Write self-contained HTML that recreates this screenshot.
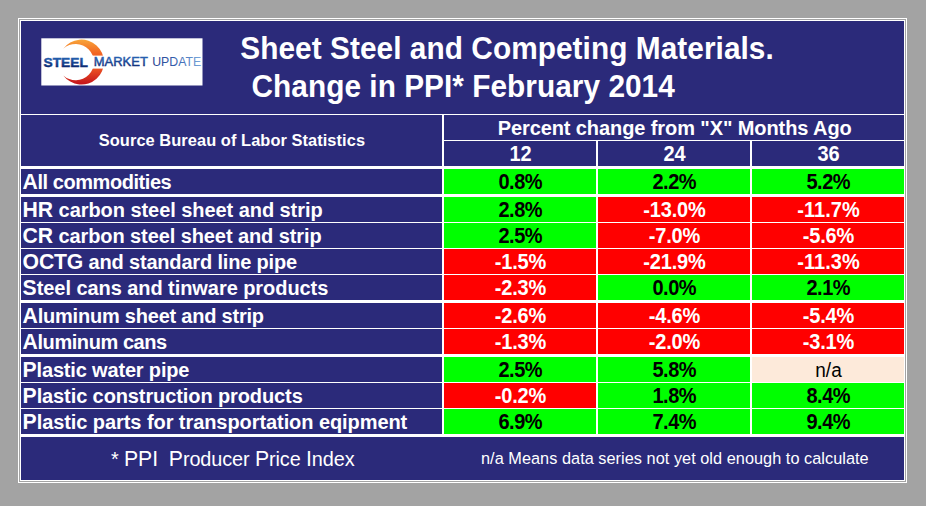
<!DOCTYPE html>
<html><head><meta charset="utf-8"><style>
html,body{margin:0;padding:0;background:#a3a3a3;width:926px;height:506px;overflow:hidden;font-family:"Liberation Sans",sans-serif;}
svg{display:block;}
</style></head><body>
<svg width="926" height="506" viewBox="0 0 926 506" font-family="'Liberation Sans', sans-serif">
<rect x="0" y="0" width="926" height="506" fill="#a3a3a3"/><rect x="18" y="18" width="889" height="465" fill="#ffffff"/><rect x="19" y="19" width="887" height="463" fill="#a3a3a3"/><rect x="20" y="20" width="885" height="461" fill="#ffffff"/><rect x="21" y="21" width="883" height="459" fill="#2b2a7a"/><rect x="21" y="114" width="883" height="1" fill="#ffffff"/><rect x="442" y="115" width="2" height="51" fill="#ffffff"/><rect x="444" y="140" width="460" height="1" fill="#ffffff"/><rect x="596" y="141" width="2" height="25" fill="#ffffff"/><rect x="750" y="141" width="2" height="25" fill="#ffffff"/><rect x="21" y="166" width="883" height="3" fill="#ffffff"/><rect x="21" y="169" width="883" height="268" fill="#ffffff"/><rect x="21" y="169" width="421" height="25" fill="#2b2a7a"/><rect x="444" y="169" width="152" height="25" fill="#00ff00"/><rect x="598" y="169" width="152" height="25" fill="#00ff00"/><rect x="752" y="169" width="152" height="25" fill="#00ff00"/><rect x="21" y="197" width="421" height="25" fill="#2b2a7a"/><rect x="444" y="197" width="152" height="25" fill="#00ff00"/><rect x="598" y="197" width="152" height="25" fill="#ff0000"/><rect x="752" y="197" width="152" height="25" fill="#ff0000"/><rect x="21" y="223" width="421" height="25" fill="#2b2a7a"/><rect x="444" y="223" width="152" height="25" fill="#00ff00"/><rect x="598" y="223" width="152" height="25" fill="#ff0000"/><rect x="752" y="223" width="152" height="25" fill="#ff0000"/><rect x="21" y="249" width="421" height="25" fill="#2b2a7a"/><rect x="444" y="249" width="152" height="25" fill="#ff0000"/><rect x="598" y="249" width="152" height="25" fill="#ff0000"/><rect x="752" y="249" width="152" height="25" fill="#ff0000"/><rect x="21" y="275" width="421" height="25" fill="#2b2a7a"/><rect x="444" y="275" width="152" height="25" fill="#ff0000"/><rect x="598" y="275" width="152" height="25" fill="#00ff00"/><rect x="752" y="275" width="152" height="25" fill="#00ff00"/><rect x="21" y="303" width="421" height="25" fill="#2b2a7a"/><rect x="444" y="303" width="152" height="25" fill="#ff0000"/><rect x="598" y="303" width="152" height="25" fill="#ff0000"/><rect x="752" y="303" width="152" height="25" fill="#ff0000"/><rect x="21" y="329" width="421" height="25" fill="#2b2a7a"/><rect x="444" y="329" width="152" height="25" fill="#ff0000"/><rect x="598" y="329" width="152" height="25" fill="#ff0000"/><rect x="752" y="329" width="152" height="25" fill="#ff0000"/><rect x="21" y="357" width="421" height="25" fill="#2b2a7a"/><rect x="444" y="357" width="152" height="25" fill="#00ff00"/><rect x="598" y="357" width="152" height="25" fill="#00ff00"/><rect x="752" y="357" width="152" height="25" fill="#fdeada"/><rect x="21" y="383" width="421" height="25" fill="#2b2a7a"/><rect x="444" y="383" width="152" height="25" fill="#ff0000"/><rect x="598" y="383" width="152" height="25" fill="#00ff00"/><rect x="752" y="383" width="152" height="25" fill="#00ff00"/><rect x="21" y="409" width="421" height="25" fill="#2b2a7a"/><rect x="444" y="409" width="152" height="25" fill="#00ff00"/><rect x="598" y="409" width="152" height="25" fill="#00ff00"/><rect x="752" y="409" width="152" height="25" fill="#00ff00"/>

<defs>
<linearGradient id="cg" gradientUnits="userSpaceOnUse" x1="0" y1="40" x2="0" y2="84">
 <stop offset="0" stop-color="#f8a338"/>
 <stop offset="0.3" stop-color="#f26524"/>
 <stop offset="0.65" stop-color="#ec5323"/>
 <stop offset="1" stop-color="#c4141c"/>
</linearGradient>
<linearGradient id="tb" gradientUnits="userSpaceOnUse" x1="0" y1="57" x2="0" y2="67">
 <stop offset="0" stop-color="#2464b4"/>
 <stop offset="1" stop-color="#0b2a72"/>
</linearGradient>
<linearGradient id="tm" gradientUnits="userSpaceOnUse" x1="0" y1="57" x2="0" y2="67">
 <stop offset="0" stop-color="#2662b2"/>
 <stop offset="1" stop-color="#0f2c76"/>
</linearGradient>
<linearGradient id="tu" gradientUnits="userSpaceOnUse" x1="152" y1="67" x2="200" y2="57">
 <stop offset="0" stop-color="#263f8e"/>
 <stop offset="0.5" stop-color="#3560ae"/>
 <stop offset="1" stop-color="#78a8dc"/>
</linearGradient>
</defs>
<rect x="41.3" y="38.3" width="161.2" height="47.2" fill="#ffffff"/>
<path fill="url(#cg)" d="M63.3,48.8 A22.5,22.5 0 1 1 63.3,75.4 A18.2,18.2 0 1 0 63.3,48.8 Z"/>
<rect x="88.5" y="55.6" width="17" height="13.0" fill="#ffffff"/>
<text x="43.6" y="66.9" font-size="13.6" font-weight="bold" fill="url(#tb)" stroke="url(#tb)" stroke-width="0.45" textLength="44.2" lengthAdjust="spacingAndGlyphs">STEEL</text>
<text x="93.8" y="66.3" font-size="13.2" font-weight="normal" fill="url(#tm)" stroke="url(#tm)" stroke-width="0.45" textLength="54" lengthAdjust="spacingAndGlyphs">MARKET</text>
<text x="152.2" y="66.4" font-size="13.2" font-weight="normal" fill="url(#tu)" textLength="49" lengthAdjust="spacingAndGlyphs">UPDATE</text>

<text id="title1" transform="translate(240.2 59) scale(1 1.03)" x="0" y="0" font-size="29.8" font-weight="bold" fill="#ffffff" text-anchor="start" textLength="533.56" lengthAdjust="spacing">Sheet Steel and Competing Materials.</text><text id="title2" transform="translate(251.5 97) scale(1 1.03)" x="0" y="0" font-size="29.8" font-weight="bold" fill="#ffffff" text-anchor="start" textLength="423.32" lengthAdjust="spacing">Change in PPI* February 2014</text><text id="source" x="231.9" y="145.5" font-size="16.4" font-weight="bold" fill="#ffffff" text-anchor="middle" textLength="266.20" lengthAdjust="spacing" >Source Bureau of Labor Statistics</text><text id="pct" x="674.7" y="134.7" font-size="20" font-weight="bold" fill="#ffffff" text-anchor="middle" textLength="354.07" lengthAdjust="spacing" >Percent change from &quot;X&quot; Months Ago</text><text id="h12" transform="translate(520.5 161) scale(1 1.08)" x="0" y="0" font-size="20" font-weight="bold" fill="#ffffff" text-anchor="middle">12</text><text id="h24" transform="translate(674.5 161) scale(1 1.08)" x="0" y="0" font-size="20" font-weight="bold" fill="#ffffff" text-anchor="middle">24</text><text id="h36" transform="translate(828.5 161) scale(1 1.08)" x="0" y="0" font-size="20" font-weight="bold" fill="#ffffff" text-anchor="middle">36</text><text id="lbl0" x="22.6" y="189" font-size="20" font-weight="bold" fill="#ffffff" text-anchor="start" textLength="149.13" lengthAdjust="spacing" ><tspan font-size="21.20">A</tspan>ll commodities</text><text id="v0_0" transform="translate(520.5 189) scale(1 1.08)" x="0" y="0" font-size="20" font-weight="bold" fill="#000000" text-anchor="middle" textLength="44.20" lengthAdjust="spacing">0.8%</text><text id="v0_1" transform="translate(674.5 189) scale(1 1.08)" x="0" y="0" font-size="20" font-weight="bold" fill="#000000" text-anchor="middle" textLength="44.20" lengthAdjust="spacing">2.2%</text><text id="v0_2" transform="translate(828.5 189) scale(1 1.08)" x="0" y="0" font-size="20" font-weight="bold" fill="#000000" text-anchor="middle" textLength="44.20" lengthAdjust="spacing">5.2%</text><text id="lbl1" x="22.6" y="217" font-size="20" font-weight="bold" fill="#ffffff" text-anchor="start" textLength="300.08" lengthAdjust="spacing" ><tspan font-size="21.20">HR</tspan> carbon steel sheet and strip</text><text id="v1_0" transform="translate(520.5 217) scale(1 1.08)" x="0" y="0" font-size="20" font-weight="bold" fill="#000000" text-anchor="middle" textLength="44.20" lengthAdjust="spacing">2.8%</text><text id="v1_1" transform="translate(674.5 217) scale(1 1.08)" x="0" y="0" font-size="20" font-weight="bold" fill="#ffffff" text-anchor="middle" textLength="62.60" lengthAdjust="spacing">-13.0%</text><text id="v1_2" transform="translate(828.5 217) scale(1 1.08)" x="0" y="0" font-size="20" font-weight="bold" fill="#ffffff" text-anchor="middle" textLength="62.60" lengthAdjust="spacing">-11.7%</text><text id="lbl2" x="22.6" y="243" font-size="20" font-weight="bold" fill="#ffffff" text-anchor="start" textLength="299.04" lengthAdjust="spacing" ><tspan font-size="21.20">CR</tspan> carbon steel sheet and strip</text><text id="v2_0" transform="translate(520.5 243) scale(1 1.08)" x="0" y="0" font-size="20" font-weight="bold" fill="#000000" text-anchor="middle" textLength="44.20" lengthAdjust="spacing">2.5%</text><text id="v2_1" transform="translate(674.5 243) scale(1 1.08)" x="0" y="0" font-size="20" font-weight="bold" fill="#ffffff" text-anchor="middle" textLength="51.40" lengthAdjust="spacing">-7.0%</text><text id="v2_2" transform="translate(828.5 243) scale(1 1.08)" x="0" y="0" font-size="20" font-weight="bold" fill="#ffffff" text-anchor="middle" textLength="51.40" lengthAdjust="spacing">-5.6%</text><text id="lbl3" x="22.6" y="269" font-size="20" font-weight="bold" fill="#ffffff" text-anchor="start" textLength="274.56" lengthAdjust="spacing" ><tspan font-size="21.20">OCTG</tspan> and standard line pipe</text><text id="v3_0" transform="translate(520.5 269) scale(1 1.08)" x="0" y="0" font-size="20" font-weight="bold" fill="#ffffff" text-anchor="middle" textLength="51.40" lengthAdjust="spacing">-1.5%</text><text id="v3_1" transform="translate(674.5 269) scale(1 1.08)" x="0" y="0" font-size="20" font-weight="bold" fill="#ffffff" text-anchor="middle" textLength="62.60" lengthAdjust="spacing">-21.9%</text><text id="v3_2" transform="translate(828.5 269) scale(1 1.08)" x="0" y="0" font-size="20" font-weight="bold" fill="#ffffff" text-anchor="middle" textLength="62.60" lengthAdjust="spacing">-11.3%</text><text id="lbl4" x="22.6" y="295" font-size="20" font-weight="bold" fill="#ffffff" text-anchor="start" textLength="305.72" lengthAdjust="spacing" ><tspan font-size="21.20">S</tspan>teel cans and tinware products</text><text id="v4_0" transform="translate(520.5 295) scale(1 1.08)" x="0" y="0" font-size="20" font-weight="bold" fill="#ffffff" text-anchor="middle" textLength="51.40" lengthAdjust="spacing">-2.3%</text><text id="v4_1" transform="translate(674.5 295) scale(1 1.08)" x="0" y="0" font-size="20" font-weight="bold" fill="#000000" text-anchor="middle" textLength="44.20" lengthAdjust="spacing">0.0%</text><text id="v4_2" transform="translate(828.5 295) scale(1 1.08)" x="0" y="0" font-size="20" font-weight="bold" fill="#000000" text-anchor="middle" textLength="44.20" lengthAdjust="spacing">2.1%</text><text id="lbl5" x="22.6" y="323" font-size="20" font-weight="bold" fill="#ffffff" text-anchor="start" textLength="241.42" lengthAdjust="spacing" ><tspan font-size="21.20">A</tspan>luminum sheet and strip</text><text id="v5_0" transform="translate(520.5 323) scale(1 1.08)" x="0" y="0" font-size="20" font-weight="bold" fill="#ffffff" text-anchor="middle" textLength="51.40" lengthAdjust="spacing">-2.6%</text><text id="v5_1" transform="translate(674.5 323) scale(1 1.08)" x="0" y="0" font-size="20" font-weight="bold" fill="#ffffff" text-anchor="middle" textLength="51.40" lengthAdjust="spacing">-4.6%</text><text id="v5_2" transform="translate(828.5 323) scale(1 1.08)" x="0" y="0" font-size="20" font-weight="bold" fill="#ffffff" text-anchor="middle" textLength="51.40" lengthAdjust="spacing">-5.4%</text><text id="lbl6" x="22.6" y="349" font-size="20" font-weight="bold" fill="#ffffff" text-anchor="start" textLength="144.59" lengthAdjust="spacing" ><tspan font-size="21.20">A</tspan>luminum cans</text><text id="v6_0" transform="translate(520.5 349) scale(1 1.08)" x="0" y="0" font-size="20" font-weight="bold" fill="#ffffff" text-anchor="middle" textLength="51.40" lengthAdjust="spacing">-1.3%</text><text id="v6_1" transform="translate(674.5 349) scale(1 1.08)" x="0" y="0" font-size="20" font-weight="bold" fill="#ffffff" text-anchor="middle" textLength="51.40" lengthAdjust="spacing">-2.0%</text><text id="v6_2" transform="translate(828.5 349) scale(1 1.08)" x="0" y="0" font-size="20" font-weight="bold" fill="#ffffff" text-anchor="middle" textLength="51.40" lengthAdjust="spacing">-3.1%</text><text id="lbl7" x="22.6" y="377" font-size="20" font-weight="bold" fill="#ffffff" text-anchor="start" textLength="166.85" lengthAdjust="spacing" ><tspan font-size="21.20">P</tspan>lastic water pipe</text><text id="v7_0" transform="translate(520.5 377) scale(1 1.08)" x="0" y="0" font-size="20" font-weight="bold" fill="#000000" text-anchor="middle" textLength="44.20" lengthAdjust="spacing">2.5%</text><text id="v7_1" transform="translate(674.5 377) scale(1 1.08)" x="0" y="0" font-size="20" font-weight="bold" fill="#000000" text-anchor="middle" textLength="44.20" lengthAdjust="spacing">5.8%</text><text id="v7_2" transform="translate(828.5 376.5) scale(1 1.06)" x="0" y="0" font-size="19" font-weight="normal" fill="#000000" text-anchor="middle">n/a</text><text id="lbl8" x="22.6" y="403" font-size="20" font-weight="bold" fill="#ffffff" text-anchor="start" textLength="280.19" lengthAdjust="spacing" ><tspan font-size="21.20">P</tspan>lastic construction products</text><text id="v8_0" transform="translate(520.5 403) scale(1 1.08)" x="0" y="0" font-size="20" font-weight="bold" fill="#ffffff" text-anchor="middle" textLength="51.40" lengthAdjust="spacing">-0.2%</text><text id="v8_1" transform="translate(674.5 403) scale(1 1.08)" x="0" y="0" font-size="20" font-weight="bold" fill="#000000" text-anchor="middle" textLength="44.20" lengthAdjust="spacing">1.8%</text><text id="v8_2" transform="translate(828.5 403) scale(1 1.08)" x="0" y="0" font-size="20" font-weight="bold" fill="#000000" text-anchor="middle" textLength="44.20" lengthAdjust="spacing">8.4%</text><text id="lbl9" x="22.6" y="429" font-size="20" font-weight="bold" fill="#ffffff" text-anchor="start" textLength="384.68" lengthAdjust="spacing" ><tspan font-size="21.20">P</tspan>lastic parts for transportation eqipment</text><text id="v9_0" transform="translate(520.5 429) scale(1 1.08)" x="0" y="0" font-size="20" font-weight="bold" fill="#000000" text-anchor="middle" textLength="44.20" lengthAdjust="spacing">6.9%</text><text id="v9_1" transform="translate(674.5 429) scale(1 1.08)" x="0" y="0" font-size="20" font-weight="bold" fill="#000000" text-anchor="middle" textLength="44.20" lengthAdjust="spacing">7.4%</text><text id="v9_2" transform="translate(828.5 429) scale(1 1.08)" x="0" y="0" font-size="20" font-weight="bold" fill="#000000" text-anchor="middle" textLength="44.20" lengthAdjust="spacing">9.4%</text><text id="foot1" x="111" y="465.9" font-size="19.85" font-weight="normal" fill="#ffffff" text-anchor="start" textLength="243.62" lengthAdjust="spacing" >* <tspan font-size="21.24">PPI</tspan>  <tspan font-size="21.24">P</tspan>roducer <tspan font-size="21.24">P</tspan>rice <tspan font-size="21.24">I</tspan>ndex</text><text id="foot2" x="481" y="463.9" font-size="16.3" font-weight="normal" fill="#ffffff" text-anchor="start" textLength="387.62" lengthAdjust="spacing" >n/a Means data series not yet old enough to calculate</text>
</svg>
</body></html>
